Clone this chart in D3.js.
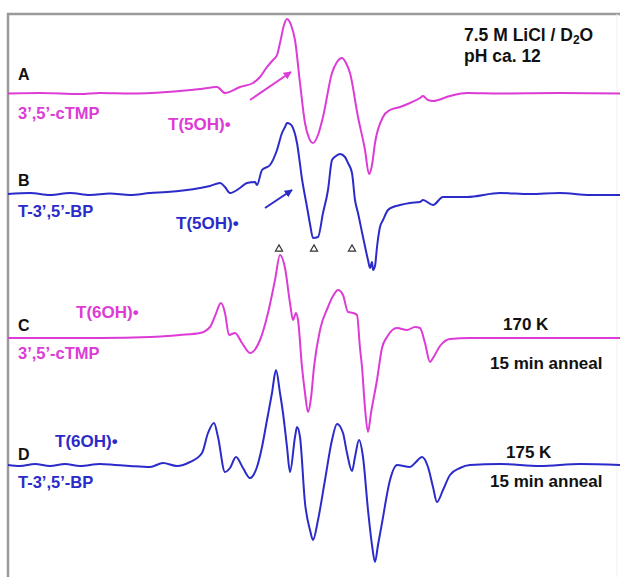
<!DOCTYPE html>
<html>
<head>
<meta charset="utf-8">
<script src="https://cdn.jsdelivr.net/npm/d3@7"></script>
<style>
  body { margin: 0; background: #fff; }
  svg { display: block; }
  text { font-family: "Liberation Sans", Arial, sans-serif; font-weight: bold; }
</style>
</head>
<body>
<svg id="chart" width="620" height="577"></svg>
<script>
// EPR spectra, field in arbitrary units, amplitude relative to each baseline
var traceA = [[8,0],[40,0.5],[80,-0.5],[100,0.5],[130,0],[167,1.5],[200,4.5],[217,6.5],[225,0.5],[240,6.5],[253,10.5],[260,16.5],[267,26.5],[273,33.5],[277,38.5],[280,50.5],[284,68.5],[287,74.5],[291,68.5],[295,53.5],[300,10.5],[305,-29.5],[309,-44.5],[313,-49.5],[318,-41.5],[323,-23.5],[332,20.5],[337,31.5],[342,35.5],[346,30.5],[350,20.5],[358,-23.5],[365,-56.5],[369,-80.5],[372,-71.5],[375,-49.5],[383,-23.5],[390,-16.5],[400,-13.5],[410,-9.5],[420,-4.5],[423,-2.5],[428,-6.5],[433,-7.5],[450,-2.5],[467,0.5],[500,0],[560,0.5],[620,0]];

var traceB = [[8,0],[30,1],[50,-1],[70,1],[90,-1],[110,0.5],[130,-1],[150,1],[167,2],[200,6],[210,8],[220,11],[225,7],[230,1],[240,6],[247,11],[255,12],[257,9],[262,24],[270,29],[277,44],[282,61],[285,67],[287,71],[290,70],[292,68],[297,51],[302,15],[307,-13],[310,-30],[313,-44],[318,-43],[323,-19],[328,4],[332,34],[336,38],[340,40],[345,37],[348,31],[352,21],[355,-6],[358,-19],[363,-43],[368,-66],[370,-74],[372,-68],[373,-76],[375,-72],[377,-53],[380,-33],[383,-26],[388,-16],[393,-13],[400,-11],[410,-9],[420,-8],[423,-6],[433,-11],[443,-3],[467,-3],[500,1],[530,0],[560,1],[590,-1],[620,-1]];

var traceC = [[8,0],[100,0],[150,1],[180,3],[200,5],[210,11],[215,22],[221,35],[225,25],[229,3],[235,5],[242,-5],[250,-15],[260,-2],[268,25],[275,58],[280,83],[285,70],[290,35],[293,18],[296,25],[298,18],[302,-29],[305,-55],[308,-74],[311,-60],[314,-29],[320,8],[328,31],[333,42],[338,48],[343,43],[348,26],[353,25],[357,23],[360,-10],[362,-29],[365,-70],[368,-94],[371,-75],[377,-42],[382,-10],[387,1],[397,10],[407,8],[415,11],[420,10],[425,-5],[430,-24],[433,-20],[440,-8],[450,-1],[470,0],[620,0]];

var traceD = [[8,0],[20,-1],[35,1],[50,-1],[65,1],[80,-1],[100,1],[115,0],[130,-1],[150,-2],[163,2],[177,-1],[190,3],[202,12],[208,32],[214,42],[218,28],[225,-7],[230,-3],[236,8],[243,-3],[250,-13],[257,-2],[262,18],[267,45],[272,72],[276,95],[280,72],[283,52],[287,18],[290,-7],[295,28],[297,38],[300,28],[305,-38],[310,-65],[313,-75],[318,-55],[325,-15],[332,25],[337,41],[343,32],[347,12],[352,-6],[355,8],[359,25],[363,8],[368,-45],[372,-80],[375,-97],[378,-80],[382,-58],[390,-15],[397,0],[410,-2],[415,2],[422,8],[428,-2],[433,-22],[437,-37],[443,-25],[450,-10],[460,-3],[470,0],[500,1],[540,-1],[580,1],[620,0]];

var baselines = [93.5, 194, 338, 465];
var markerFields = [279, 314, 352];

var magenta = "#dd3bd6";
var blue = "#2b2bc9";

var svg = d3.select("#chart");

var x = d3.scaleLinear().domain([8, 620]).range([8, 620]);
var amp = d3.scaleLinear().domain([-100, 100]).range([100, -100]);

// frame
svg.append("line").attr("x1", 7).attr("x2", 620).attr("y1", 14).attr("y2", 14)
  .attr("stroke", "#9a9a9a").attr("stroke-width", 2.5);
svg.append("line").attr("x1", 8).attr("x2", 8).attr("y1", 13).attr("y2", 577)
  .attr("stroke", "#9a9a9a").attr("stroke-width", 2.5);
svg.append("line").attr("x1", 617).attr("x2", 617).attr("y1", 14).attr("y2", 577)
  .attr("stroke", "#f0f0f0").attr("stroke-width", 1);

var line = d3.line()
  .x(function(d){ return x(d[0]); })
  .y(function(d){ return amp(d[1]); })
  .curve(d3.curveMonotoneX);

var traces = [traceA, traceB, traceC, traceD];
var colors = [magenta, blue, magenta, blue];

traces.forEach(function(t, i){
  svg.append("g")
    .attr("transform", "translate(0," + baselines[i] + ")")
    .append("path")
    .datum(t)
    .attr("d", line)
    .attr("fill", "none")
    .attr("stroke", colors[i])
    .attr("stroke-width", 2)
    .attr("stroke-linejoin", "round");
});

// arrows
var defs = svg.append("defs");
function arrowHead(id, col){
  defs.append("marker").attr("id", id)
    .attr("viewBox", "0 0 10 10").attr("refX", 9).attr("refY", 5)
    .attr("markerWidth", 4).attr("markerHeight", 4).attr("orient", "auto")
    .append("path").attr("d", "M0,0L10,5L0,10z").attr("fill", col);
}
arrowHead("am", magenta);
arrowHead("ab", blue);

svg.append("line").attr("x1", 250).attr("y1", 100).attr("x2", 291).attr("y2", 72)
  .attr("stroke", magenta).attr("stroke-width", 2).attr("marker-end", "url(#am)");
svg.append("line").attr("x1", 265).attr("y1", 208).attr("x2", 292).attr("y2", 190)
  .attr("stroke", blue).attr("stroke-width", 2).attr("marker-end", "url(#ab)");

// triangles
svg.selectAll(".tri").data(markerFields).enter().append("path")
  .attr("class", "tri")
  .attr("d", d3.symbol().type(d3.symbolTriangle).size(22))
  .attr("transform", function(d){ return "translate(" + x(d) + ",249)"; })
  .attr("fill", "#fff").attr("stroke", "#333").attr("stroke-width", 1.2);

// labels
function label(txt, px, py, col, size){
  return svg.append("text").attr("x", px).attr("y", py)
    .attr("fill", col).attr("font-size", size).text(txt);
}
label("A", 18, 80, "#111", 16);
label("3\u2019,5\u2019-cTMP", 18, 119, magenta, 16.5);
label("T(5OH)\u2022", 168, 130, magenta, 17);
label("B", 18, 186, "#111", 16);
label("T-3\u2019,5\u2019-BP", 18, 217, blue, 16.5);
label("T(5OH)\u2022", 176, 229, blue, 17);
label("C", 18, 331, "#111", 16);
label("T(6OH)\u2022", 76, 318, magenta, 17);
label("3\u2019,5\u2019-cTMP", 18, 359, magenta, 16.5);
label("D", 18, 460, "#111", 16);
label("T(6OH)\u2022", 55, 447, blue, 17);
label("T-3\u2019,5\u2019-BP", 18, 488, blue, 16.5);

label("170 K", 503, 330, "#111", 17);
label("15 min anneal", 490, 369, "#111", 17);
label("175 K", 506, 458, "#111", 17);
label("15 min anneal", 490, 487, "#111", 17);

var t1 = label("7.5 M LiCl / D", 464, 41, "#111", 17.5);
t1.append("tspan").attr("font-size", 12).attr("dy", 3).text("2");
t1.append("tspan").attr("dy", -3).text("O");
label("pH ca. 12", 464, 62, "#111", 17.5);
</script>
</body>
</html>
